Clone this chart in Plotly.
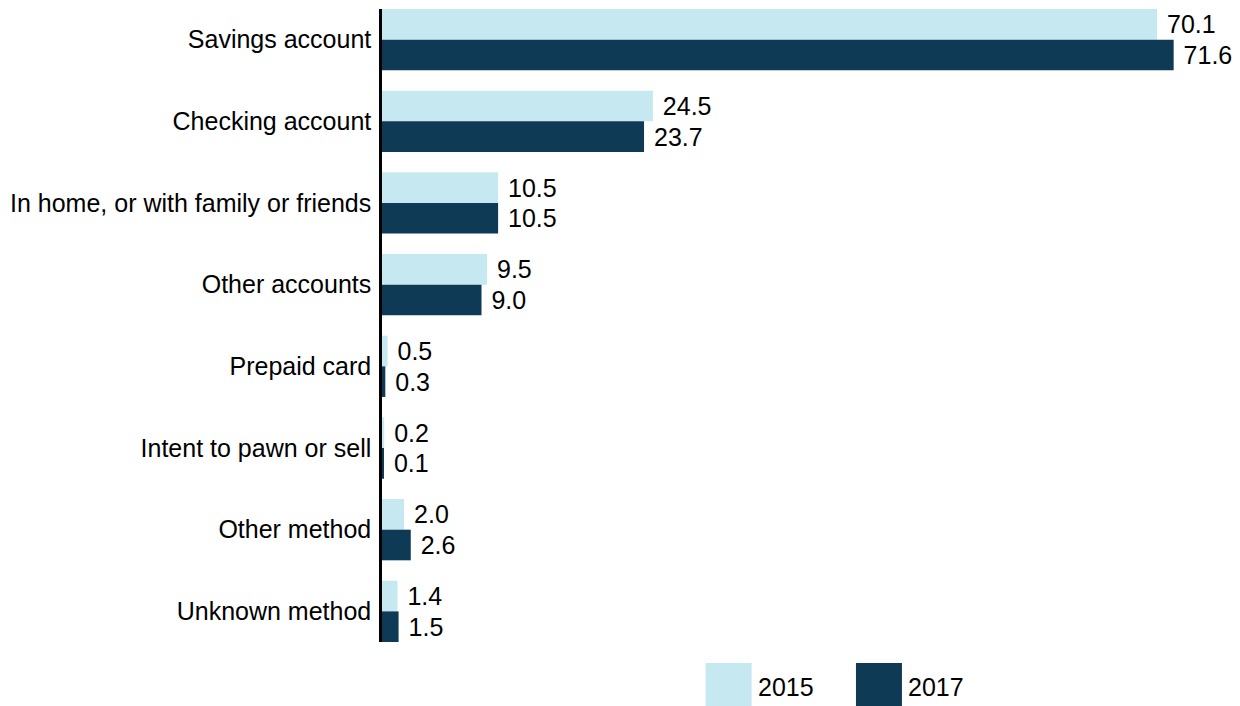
import plotly.graph_objects as go

categories = ["Savings account", "Checking account", "In home, or with family or friends",
              "Other accounts", "Prepaid card", "Intent to pawn or sell",
              "Other method", "Unknown method"]
values_2015 = [70.1, 24.5, 10.5, 9.5, 0.5, 0.2, 2.0, 1.4]
values_2017 = [71.6, 23.7, 10.5, 9.0, 0.3, 0.1, 2.6, 1.5]
series_names = ["2015", "2017"]
colors = ["#C5E8F1", "#0E3A55"]

FONT = "Liberation Sans, Arial, sans-serif"
FS = 25
fig = go.Figure()
for name, vals, col in zip(series_names, [values_2015, values_2017], colors):
    fig.add_trace(go.Bar(
        y=categories, x=vals, name=name, orientation="h",
        marker=dict(color=col, line=dict(width=0)),
        text=vals, texttemplate=" %{x:.1f}", textposition="outside",
        textfont=dict(size=FS, color="#000000", family=FONT),
        cliponaxis=False, showlegend=False, hoverinfo="skip",
    ))

fig.update_layout(
    width=1240, height=706,
    margin=dict(l=382, r=0, t=9, b=64),
    barmode="group", bargap=0.25, bargroupgap=0,
    plot_bgcolor="white", paper_bgcolor="white",
    font=dict(family=FONT, size=FS, color="#000000"),
    xaxis=dict(range=[0, 77.6], visible=False, showgrid=False, zeroline=False),
    yaxis=dict(categoryorder="array", categoryarray=categories,
               range=[7.375, -0.375], showline=True, linecolor="#000000", linewidth=2.5,
               showgrid=False, zeroline=False, ticks="", ticklabelstandoff=3,
               tickfont=dict(size=FS, color="#000000", family=FONT)),
)

# Legend drawn with shapes + text
legend_x = [0.3772, 0.5524]
sw = 0.0536
for name, col, lx in zip(series_names, colors, legend_x):
    fig.add_shape(type="rect", xref="paper", yref="paper",
                  x0=lx, x1=lx + sw, y0=-0.0332, y1=-0.1011,
                  fillcolor=col, line=dict(width=0))
    fig.add_annotation(xref="paper", yref="paper", x=lx + sw + 0.005, y=-0.0711,
                       text=name, showarrow=False, xanchor="left", yanchor="middle",
                       font=dict(size=FS, color="#000000", family=FONT))

fig.write_html("out.html", config={"displayModeBar": False},
               post_script="document.body.style.margin='0';document.body.style.padding='0';document.body.style.overflow='hidden';")
